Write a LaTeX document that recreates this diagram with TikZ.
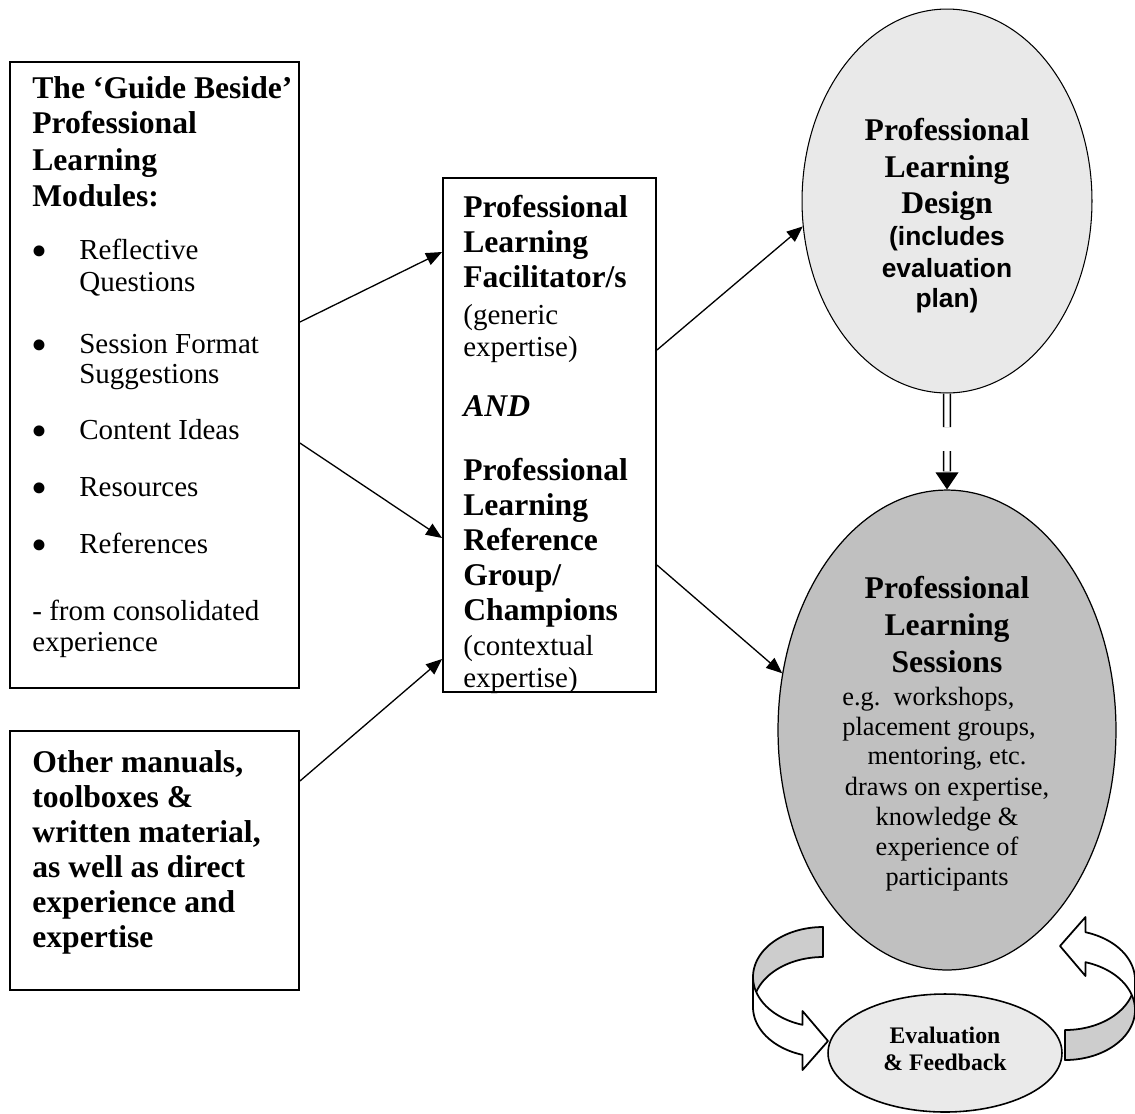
\documentclass[tikz,border=0pt]{standalone}
\usepackage{fontspec}
\setmainfont{Liberation Serif}
\newfontfamily\arialfont{Liberation Sans}
\usetikzlibrary{arrows.meta,shapes.geometric,calc}
\definecolor{designfill}{HTML}{E9E9E9}
\definecolor{sessionfill}{HTML}{C0C0C0}
\definecolor{evalfill}{HTML}{EAEAEA}
\definecolor{ribbon}{HTML}{CDCDCD}
\begin{document}
\begin{tikzpicture}[x=0.02cm, y=-0.02cm,
  frame/.style={draw, line width=1.1pt, rectangle, inner sep=0pt},
  oval/.style={draw, ellipse, inner sep=0pt},
  conn/.style={line width=0.75pt, -{Triangle[length=0.32cm,width=0.26cm]}},
  dbl/.style={double, double distance=3pt, line width=0.8pt},
  hd/.style={inner sep=0pt, font=\fontsize{18pt}{21pt}\selectfont\bfseries},
  tx/.style={inner sep=0pt, font=\fontsize{16.5pt}{19pt}\selectfont},
  bul/.style={inner sep=0pt, anchor=base west, font=\fontsize{26pt}{28pt}\selectfont},
  sm/.style={inner sep=0pt, font=\fontsize{15pt}{17pt}\selectfont},
  sf/.style={inner sep=0pt, font=\fontsize{15pt}{17pt}\selectfont\arialfont\bfseries},
  ev/.style={inner sep=0pt, font=\fontsize{13.5pt}{15pt}\selectfont\bfseries},
  lft/.style={anchor=base west},
  ctr/.style={anchor=base},
  ribbonline/.style={line width=1pt, line join=round},
]
\useasboundingbox (0,0) rectangle (1135,1113);

% boxes and ovals
\node[frame, minimum width=5.78cm, minimum height=12.52cm] (guide) at (154.5,375) {};
\node[frame, minimum width=5.78cm, minimum height=5.18cm] (other) at (154.5,860.5) {};
\node[frame, minimum width=4.26cm, minimum height=10.28cm] (facil) at (549.5,435) {};
\node[oval, fill=designfill, line width=0.6pt, minimum width=5.8cm, minimum height=7.68cm] (design) at (947,201) {};
\node[oval, fill=sessionfill, line width=0.7pt, minimum width=6.76cm, minimum height=9.6cm] (sessions) at (947,730) {};
\node[oval, fill=evalfill, line width=0.9pt, minimum width=4.68cm, minimum height=2.36cm] (evalfb) at (945,1053) {};

% left box text
\node[hd,lft] (g1) at (32,98) {The ‘Guide Beside’};
\node[hd,lft] (g2) at (32,133) {Professional};
\node[hd,lft] (g3) at (32,170) {Learning};
\node[hd,lft] (g4) at (32,206) {Modules:};
\node[bul] (d1) at (31,266) {\textbullet};
\node[tx,lft] (i1) at (79,259) {Reflective};
\node[tx,lft] (i1b) at (79,291) {Questions};
\node[bul] (d2) at (31,360) {\textbullet};
\node[tx,lft] (i2) at (79,353) {Session Format};
\node[tx,lft] (i2b) at (79,383) {Suggestions};
\node[bul] (d3) at (31,446) {\textbullet};
\node[tx,lft] (i3) at (79,439) {Content Ideas};
\node[bul] (d4) at (31,503) {\textbullet};
\node[tx,lft] (i4) at (79,496) {Resources};
\node[bul] (d5) at (31,560) {\textbullet};
\node[tx,lft] (i5) at (79,553) {References};
\node[tx,lft] (f1) at (32,620) {- from consolidated};
\node[tx,lft] (f2) at (32,651) {experience};

% lower left box text
\node[hd,lft] (o1) at (32,772) {Other manuals,};
\node[hd,lft] (o2) at (32,807) {toolboxes \&};
\node[hd,lft] (o3) at (32,842) {written material,};
\node[hd,lft] (o4) at (32,877) {as well as direct};
\node[hd,lft] (o5) at (32,912) {experience and};
\node[hd,lft] (o6) at (32,947) {expertise};

% middle box text
\node[hd,lft] (m1) at (463,217) {Professional};
\node[hd,lft] (m2) at (463,252) {Learning};
\node[hd,lft] (m3) at (463,287) {Facilitator/s};
\node[tx,lft] (m4) at (463,324) {(generic};
\node[tx,lft] (m5) at (463,356) {expertise)};
\node[hd,lft] (m6) at (463,416) {\itshape AND};
\node[hd,lft] (m7) at (463,480) {Professional};
\node[hd,lft] (m8) at (463,515) {Learning};
\node[hd,lft] (m9) at (463,550) {Reference};
\node[hd,lft] (m10) at (463,585) {Group/};
\node[hd,lft] (m11) at (463,620) {Champions};
\node[tx,lft] (m12) at (463,655) {(contextual};
\node[tx,lft] (m13) at (463,687) {expertise)};

% design oval text
\node[hd,ctr] (p1) at (947,140) {Professional};
\node[hd,ctr] (p2) at (947,177) {Learning};
\node[hd,ctr] (p3) at (947,213) {Design};
\node[sf,ctr] (p4) at (947,245) {(includes};
\node[sf,ctr] (p5) at (947,277) {evaluation};
\node[sf,ctr] (p6) at (947,307) {plan)};

% sessions oval text
\node[hd,ctr] (s1) at (947,598) {Professional};
\node[hd,ctr] (s2) at (947,635) {Learning};
\node[hd,ctr] (s3) at (947,672) {Sessions};
\node[sm,lft] (s4) at (842,705) {e.g.\ \ workshops,};
\node[sm,lft] (s5) at (842,735) {placement groups,};
\node[sm,ctr] (s6) at (947,764) {mentoring, etc.};
\node[sm,ctr] (s7) at (947,795) {draws on expertise,};
\node[sm,ctr] (s8) at (947,825) {knowledge \&};
\node[sm,ctr] (s9) at (947,855) {experience of};
\node[sm,ctr] (s10) at (947,885) {participants};

% evaluation oval text
\node[ev,ctr] (e1) at (945,1043) {Evaluation};
\node[ev,ctr] (e2) at (945,1070) {\& Feedback};

% connectors
\draw[conn] (guide.east |- 0,322) -- (facil.west |- 0,252);
\draw[conn] (guide.east |- 0,443) -- (facil.west |- 0,538);
\draw[conn] (other.east |- 0,781) -- (facil.west |- 0,659);
\draw[conn] (facil.east |- 0,350) -- (design.190);
\draw[conn] (facil.east |- 0,565) -- (sessions.161);

% broken double arrow from design to sessions
\draw[dbl] (design.south) -- ($(design.south)!0.35!(sessions.north)$);
\draw[dbl] ($(design.south)!0.6!(sessions.north)$) -- ($(sessions.north)+(0,-18)$);
\fill (sessions.north) -- ++(-11.5,-17) -- ++(23,0) -- cycle;

% curved ribbon arrows round the evaluation oval
\begin{scope}
  \filldraw[ribbonline, fill=ribbon]
    plot[domain=90:180, samples=40] ({823+70*cos(\x)},{977-50*sin(\x)})
    -- plot[domain=180:90, samples=40] ({823+70*cos(\x)},{1007-50*sin(\x)}) -- cycle;
  \filldraw[ribbonline, fill=white]
    plot[domain=180:253, samples=40] ({823+70*cos(\x)},{977-50*sin(\x)})
    -- (802.5,1011) -- (828,1041) -- (802.5,1070)
    -- plot[domain=253:180, samples=40] ({823+70*cos(\x)},{1007-50*sin(\x)}) -- cycle;
\end{scope}
\begin{scope}[rotate around={180:(944,993.5)}]
  \filldraw[ribbonline, fill=ribbon]
    plot[domain=90:180, samples=40] ({823+70*cos(\x)},{977-50*sin(\x)})
    -- plot[domain=180:90, samples=40] ({823+70*cos(\x)},{1007-50*sin(\x)}) -- cycle;
  \filldraw[ribbonline, fill=white]
    plot[domain=180:253, samples=40] ({823+70*cos(\x)},{977-50*sin(\x)})
    -- (802.5,1011) -- (828,1041) -- (802.5,1070)
    -- plot[domain=253:180, samples=40] ({823+70*cos(\x)},{1007-50*sin(\x)}) -- cycle;
\end{scope}
\end{tikzpicture}
\end{document}
